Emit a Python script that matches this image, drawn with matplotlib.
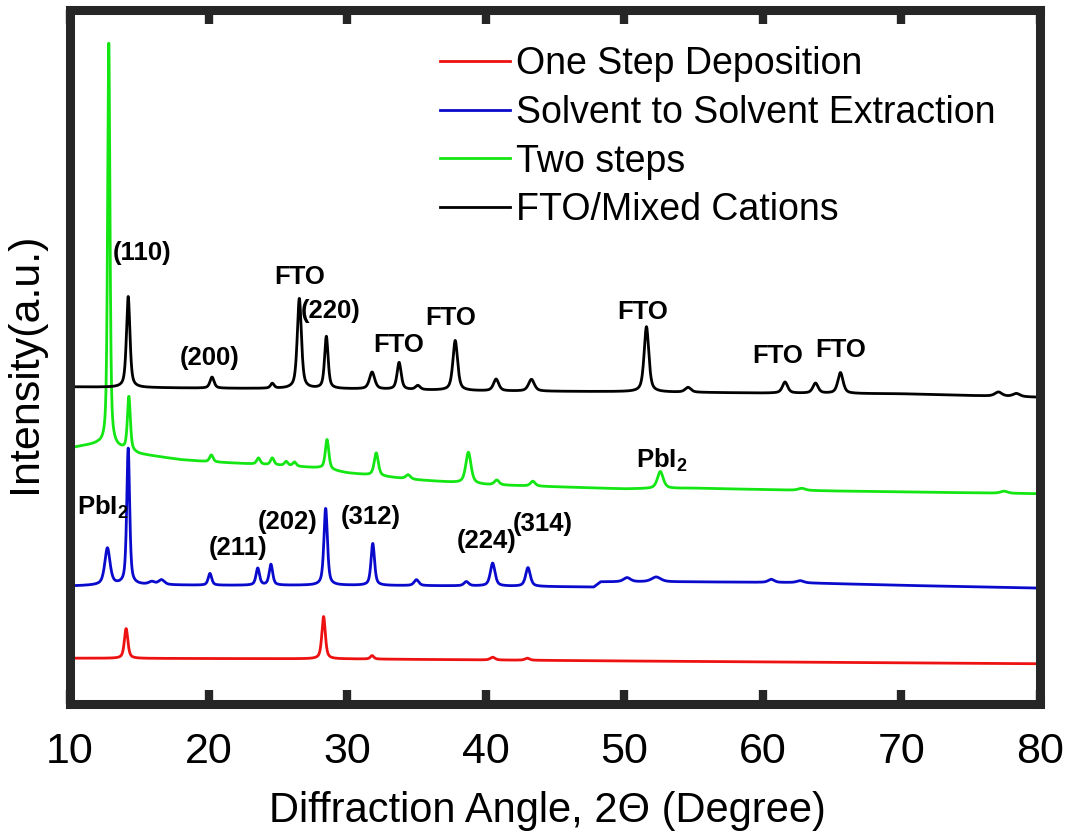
import numpy as np
import matplotlib
matplotlib.use('Agg')
import matplotlib.pyplot as plt

plt.rcParams['font.family'] = ['Liberation Sans', 'DejaVu Sans']
plt.rcParams['mathtext.fontset'] = 'custom'
plt.rcParams['mathtext.rm'] = 'Liberation Sans'
plt.rcParams['mathtext.bf'] = 'Liberation Sans:bold'

# XRD patterns: stacked with vertical offsets (a.u.)
# each pattern = baseline anchors + list of peaks (position, height, FWHM)

# One step deposition (red)
red_base_x = [10, 30, 50, 80]
red_base_y = [6.6, 6.5, 6.2, 5.8]
red_pos = [14.05, 28.3, 31.8, 40.5, 43.0]
red_hgt = [4.3, 6.1, 0.5, 0.4, 0.3]
red_fwhm = [0.3, 0.3, 0.3, 0.4, 0.4]

# Solvent to solvent extraction (blue)
blue_base_x = [10, 14, 20, 30, 40, 47.8, 48.3, 55, 62, 70, 80]
blue_base_y = [17.0, 17.2, 17.1, 17.1, 17.0, 16.85, 17.6, 17.6, 17.5, 17.1, 16.7]
blue_pos = [12.7, 14.2, 15.9, 16.6, 20.1, 23.55, 24.5, 28.45, 31.85, 35.0, 38.6,
            40.5, 43.05, 50.2, 52.3, 60.6, 62.7]
blue_hgt = [5.3, 19.6, 0.4, 0.7, 1.7, 2.45, 3.0, 11.1, 6.05, 0.85, 0.6,
            3.3, 2.7, 0.6, 0.7, 0.45, 0.3]
blue_fwhm = [0.45, 0.25, 0.5, 0.5, 0.3, 0.3, 0.3, 0.3, 0.3, 0.4, 0.4,
             0.4, 0.4, 0.6, 0.8, 0.5, 0.6]

# Two steps (green)
green_base_x = [10, 10.1, 11, 12, 13.5, 15, 18, 20, 25, 28, 30, 35, 40, 50, 55, 65, 80]
green_base_y = [30.4, 36.9, 37.2, 37.4, 36.8, 36.0, 35.2, 34.9, 34.4, 34.0, 33.3,
                32.3, 31.6, 31.0, 31.1, 30.7, 30.3]
green_pos = [12.8, 14.25, 20.2, 23.6, 24.6, 25.6, 26.2, 28.55, 32.1, 34.4, 38.75,
             40.8, 43.4, 52.6, 62.8, 77.4]
green_hgt = [58.1, 7.8, 1.0, 0.9, 1.0, 0.6, 0.6, 4.3, 3.3, 0.6, 4.5,
             0.7, 0.7, 2.45, 0.3, 0.3]
green_fwhm = [0.2, 0.25, 0.3, 0.3, 0.3, 0.3, 0.3, 0.3, 0.35, 0.4, 0.45,
              0.4, 0.4, 0.5, 0.6, 0.6]

# FTO / mixed cations (black)
black_base_x = [10, 20, 30, 40, 50, 60, 70, 80]
black_base_y = [45.7, 45.5, 45.4, 45.1, 45.0, 44.8, 44.7, 44.2]
black_pos = [14.2, 20.25, 24.6, 26.55, 28.5, 31.8, 33.75, 35.1, 37.8, 40.75, 43.3,
             51.6, 54.6, 61.6, 63.8, 65.6, 77.0, 78.3]
black_hgt = [13.1, 1.6, 0.7, 13.0, 7.5, 2.45, 3.9, 0.6, 7.2, 1.7, 1.7,
             9.4, 0.7, 1.6, 1.45, 3.0, 0.6, 0.45]
black_fwhm = [0.3, 0.35, 0.3, 0.35, 0.3, 0.45, 0.35, 0.4, 0.4, 0.45, 0.5,
              0.4, 0.5, 0.45, 0.45, 0.45, 0.6, 0.6]

# peak labels: text, 2theta, intensity
hkl_labels = ['(110)', '(200)', 'FTO', '(220)', 'FTO', 'FTO', 'FTO', 'FTO', 'FTO',
              '(211)', '(202)', '(312)', '(224)', '(314)']
hkl_x = [15.2, 20.1, 26.6, 28.8, 33.7, 37.5, 51.35, 61.1, 65.6,
         22.1, 25.7, 31.7, 40.1, 44.1]
hkl_y = [65.0, 49.9, 61.5, 56.6, 51.7, 55.6, 56.5, 50.1, 51.0,
         22.5, 26.2, 26.9, 23.5, 25.9]
pbi_x = [10.5, 50.85]
pbi_y = [27.2, 34.0]

tt = np.arange(10, 80.001, 0.02)
eta = 0.6  # Lorentzian fraction of the pseudo-Voigt profile

def pattern(bx, by, pos, hgt, fwhm):
    y = np.interp(tt, bx, by)
    for p, h, w in zip(pos, hgt, fwhm):
        d = (tt - p) / (w / 2.0)
        lor = 1 / (1 + d ** 2)
        gau = np.exp(-np.log(2) * d ** 2)
        y = y + h * (eta * lor + (1 - eta) * gau)
    return y

red = pattern(red_base_x, red_base_y, red_pos, red_hgt, red_fwhm)
blue = pattern(blue_base_x, blue_base_y, blue_pos, blue_hgt, blue_fwhm)
green = pattern(green_base_x, green_base_y, green_pos, green_hgt, green_fwhm)
black = pattern(black_base_x, black_base_y, black_pos, black_hgt, black_fwhm)

fig = plt.figure(figsize=(10.65, 8.36), dpi=100)
ax = fig.add_axes([70/1065, 1 - 704/836, 970/1065, 694/836])

lw = 2.0
ax.plot(tt, red, color='#ee1111', lw=lw, label='One Step Deposition')
ax.plot(tt, blue, color='#0a0acc', lw=lw, label='Solvent to Solvent Extraction')
ax.plot(tt, green, color='#14e614', lw=lw, label='Two steps')
ax.plot(tt, black, color='black', lw=lw, label='FTO/Mixed Cations')

for t, x, y in zip(hkl_labels, hkl_x, hkl_y):
    ax.text(x, y, t, fontsize=18.5, fontweight='bold', ha='center', va='center')
for x, y in zip(pbi_x, pbi_y):
    ax.text(x, y, r'$\mathbf{PbI_2}$', fontsize=18.5, ha='left', va='baseline')

ax.set_xlim(10, 80)
ax.set_ylim(0, 100)
ax.set_xticks(np.arange(10, 81, 10))
ax.set_yticks([])
ax.tick_params(axis='x', direction='in', top=True, length=10, width=6,
               labelsize=31, pad=20, color='#262626')
for s in ax.spines.values():
    s.set_linewidth(6.5)
    s.set_color('#262626')

ax.set_xlabel('Diffraction Angle, 2\u0398 (Degree)', fontsize=30)
ax.xaxis.set_label_coords(0.492, -0.126)
ax.set_ylabel('Intensity(a.u.)', fontsize=31)
ax.yaxis.set_label_coords(-0.026, 0.491)

ax.legend(loc='upper left', bbox_to_anchor=(440/1065, 1 - 46/836),
          bbox_transform=fig.transFigure, frameon=False, fontsize=27,
          handlelength=1.87, handletextpad=0.17, labelspacing=0.34,
          borderpad=0, borderaxespad=0)

fig.savefig('out.png', dpi=100)
